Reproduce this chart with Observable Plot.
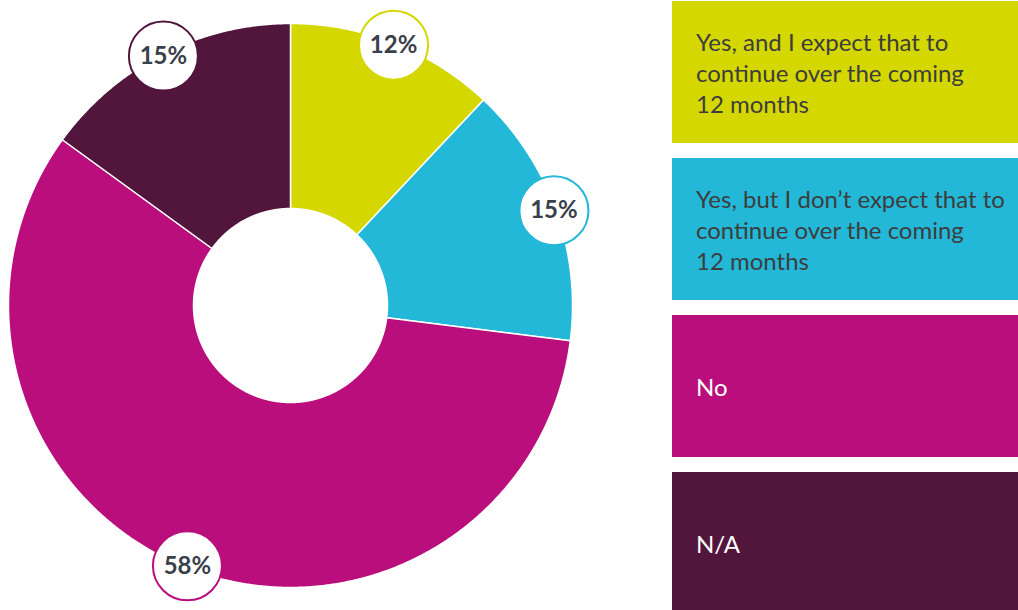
<!DOCTYPE html>
<html>
<head>
<meta charset="utf-8">
<script src="https://cdn.jsdelivr.net/npm/d3@7"></script>
<script src="https://cdn.jsdelivr.net/npm/@observablehq/plot@0.6"></script>
<style>
  html, body { margin: 0; padding: 0; background: #fff; }
  #wrap { position: relative; width: 1018px; height: 610px; overflow: hidden; }
  #chart { position: absolute; left: 0; top: 0; }
  #legend { position: absolute; left: 672px; top: 1px; width: 346px; }
  .item { height: 142px; margin-bottom: 15px; display: flex; align-items: center; box-sizing: border-box;
          padding-left: 24px; font-family: Lato, "Noto Sans", sans-serif; font-size: 24px; line-height: 31px;
          white-space: pre-line; }
</style>
</head>
<body>
<div id="wrap"><div id="chart"></div><div id="legend"></div></div>
<script>
const categories = [
  "Yes, and I expect that to continue over the coming 12 months",
  "Yes, but I don’t expect that to continue over the coming 12 months",
  "No",
  "N/A"
];
const legendLabels = [
  "Yes, and I expect that to\ncontinue over the coming\n12 months",
  "Yes, but I don’t expect that to\ncontinue over the coming\n12 months",
  "No",
  "N/A"
];
const values = [12, 15, 58, 15];
const labels = ["12%", "15%", "58%", "15%"];
const colors = ["#D4D800", "#23B8D8", "#B90E7C", "#52163C"];
const legendTextColors = ["#3d3d3d", "#3d3d3d", "#ffffff", "#ffffff"];

const R = 282, r0 = 97, rLabel = 280;
const pie = d3.pie().sort(null).value(d => d.value)(categories.map((c, i) => ({key: c, value: values[i], label: labels[i]})));

// polygon outline of each slice, sampled along the arcs
const pts = [];
pie.forEach(p => {
  const n = Math.max(2, Math.ceil((p.endAngle - p.startAngle) / 0.005));
  for (let k = 0; k <= n; k++) {
    const a = p.startAngle + (p.endAngle - p.startAngle) * k / n;
    pts.push({key: p.data.key, x: R * Math.sin(a), y: -R * Math.cos(a)});
  }
  for (let k = n; k >= 0; k--) {
    const a = p.startAngle + (p.endAngle - p.startAngle) * k / n;
    pts.push({key: p.data.key, x: r0 * Math.sin(a), y: -r0 * Math.cos(a)});
  }
});
const labelPts = pie.map(p => {
  const a = (p.startAngle + p.endAngle) / 2;
  return {key: p.data.key, label: p.data.label, x: rLabel * Math.sin(a), y: -rLabel * Math.cos(a)};
});

const chart = Plot.plot({
  width: 660, height: 610,
  margin: 0,
  x: {domain: [-290, 370], range: [0, 660], axis: null},
  y: {domain: [-305, 305], range: [0, 610], axis: null},
  color: {type: "ordinal", domain: categories, range: colors},
  marks: [
    Plot.line(pts, {x: "x", y: "y", z: "key", fill: "key", stroke: "white", strokeWidth: 1.5, curve: "linear-closed"}),
    Plot.dot(labelPts, {x: "x", y: "y", r: 34.5, fill: "white", stroke: "key", strokeWidth: 2}),
    Plot.text(labelPts, {x: "x", y: "y", text: "label", fontSize: 24, fontWeight: "bold", fill: "#3a404a", fontFamily: "Lato, 'Noto Sans', sans-serif"})
  ]
});
document.getElementById("chart").appendChild(chart);

const legend = document.getElementById("legend");
categories.forEach((c, i) => {
  const d = document.createElement("div");
  d.className = "item";
  d.style.background = colors[i];
  d.style.color = legendTextColors[i];
  d.textContent = legendLabels[i];
  legend.appendChild(d);
});
</script>
</body>
</html>
